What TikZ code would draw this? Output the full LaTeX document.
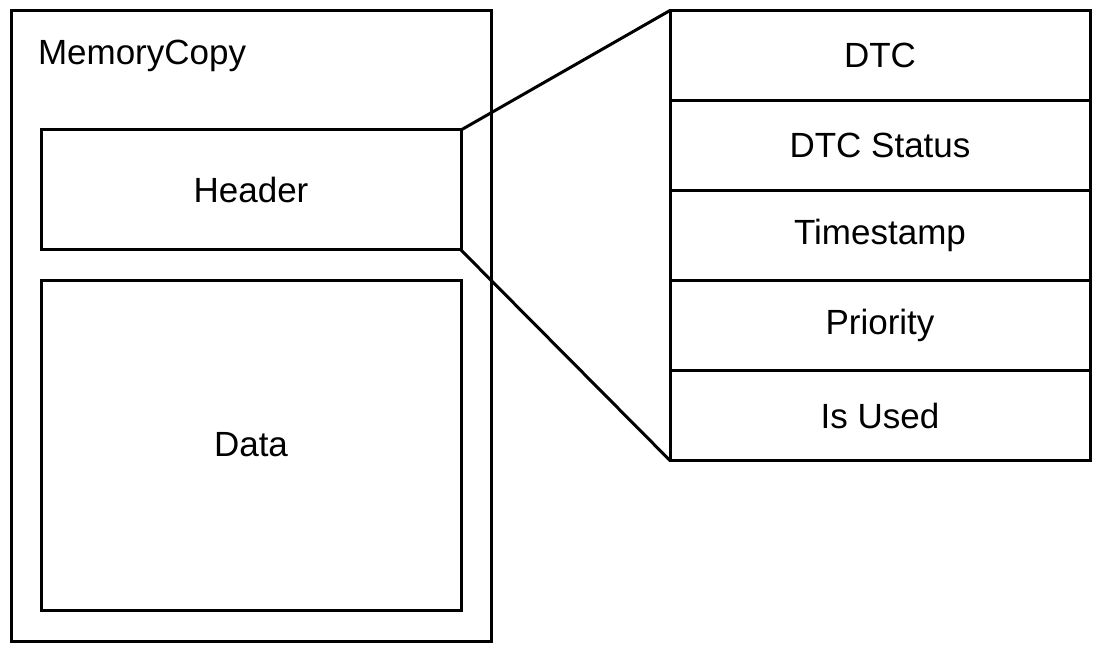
\documentclass[tikz,border=0pt]{standalone}
\usepackage{fontspec}
\setmainfont{Liberation Sans}
\usetikzlibrary{positioning}

\begin{document}
\begin{tikzpicture}[x=1pt, y=-1pt, line width=3pt,
    every node/.style={font=\fontsize{35}{42}\selectfont, outer sep=0pt, inner sep=0pt},
    block/.style={draw, rectangle, minimum width=420pt},
    field/.style={block, minimum height=90pt}]
  \useasboundingbox (0,0) rectangle (1102,652);
  % memory copy with header and data
  \node[draw, rectangle, minimum width=480pt, minimum height=630pt] (memcopy) at (251,326) {};
  \node[anchor=base west] (title) at (38,65) {MemoryCopy};
  \node[block, minimum height=120pt] (header) at (251,190) {Header};
  \node[block, minimum height=330pt] (data) at (251,445) {Data};
  % header fields
  \node[field] (dtc) at (880,55.5) {DTC};
  \node[field, below=0pt of dtc] (status) {DTC Status};
  \node[field, below=0pt of status] (stamp) {Timestamp};
  \node[field, below=0pt of stamp] (prio) {Priority};
  \node[field, below=0pt of prio] (used) {Is Used};
  % zoom lines
  \draw (header.north east) -- (dtc.north west);
  \draw (header.south east) -- (used.south west);
\end{tikzpicture}
\end{document}
